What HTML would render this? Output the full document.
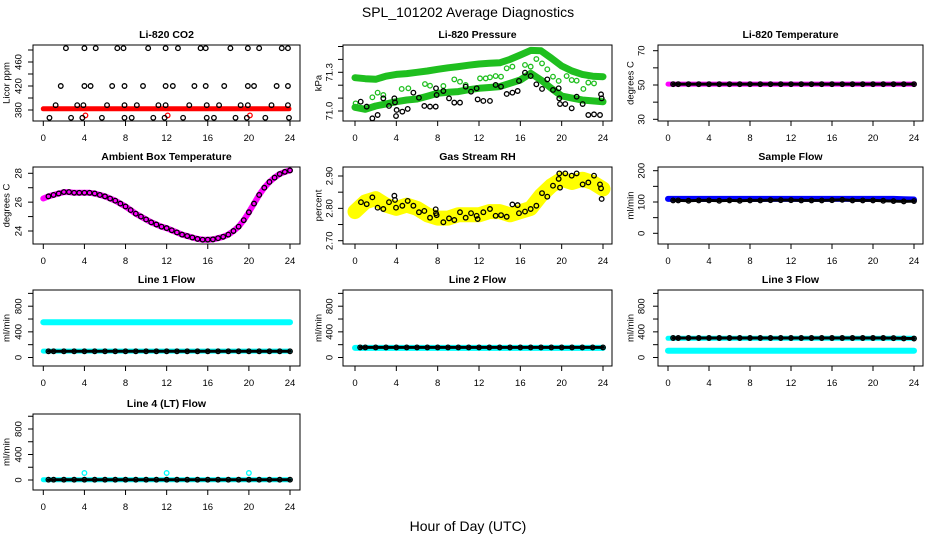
<!DOCTYPE html>
<html><head><meta charset="utf-8"><style>
body{margin:0;background:#fff}
svg{display:block;font-family:"Liberation Sans",sans-serif}
</style></head><body>
<svg id="chart" width="936" height="540" viewBox="0 0 936 540" xmlns="http://www.w3.org/2000/svg">
<rect width="936" height="540" fill="#fff"/>
<text x="468" y="17" text-anchor="middle" font-size="14">SPL_101202  Average Diagnostics</text>
<text x="468" y="531" text-anchor="middle" font-size="14">Hour of Day (UTC)</text>
</svg>
<script>
// ---------- data ----------
const hours = [0,1,2,3,4,5,6,7,8,9,10,11,12,13,14,15,16,17,18,19,20,21,22,23,24];
const xTicks = [0,4,8,12,16,20,24];

const co2Red = [382,382,382,382,382,382,382,382,382,382,382,382,382,382,382,382,382,382,382,382,382,382,382,382,382];
const co2BlackHours = [2.2,4.0,5.1,7.2,7.8,10.2,11.9,13.1,15.3,15.8,18.2,19.9,21.0,23.2,23.8,
  1.7,4.0,4.6,6.7,7.9,9.7,11.9,12.6,14.7,15.8,17.6,19.9,20.5,22.7,23.8,
  1.2,3.3,3.9,6.2,7.9,9.1,11.2,11.9,14.2,15.9,17.1,19.2,19.9,22.2,23.8,
  0.6,2.7,3.8,5.7,7.9,8.6,10.7,11.8,13.6,15.9,16.6,18.7,19.8,21.6,23.9];
const co2BlackVals = [483,483,483,483,483,483,483,483,483,483,483,483,483,483,483,
  420,420,420,420,420,420,420,420,420,420,420,420,420,420,420,
  388,388,388,388,388,388,388,388,388,388,388,388,388,388,388,
  367,367,367,367,367,367,367,367,367,367,367,367,367,367,367];
const co2RedHours = [4.1,12.1,20.1];
const co2RedVals = [371,371,371];

const pressUpper = [71.258,71.25,71.246,71.27,71.284,71.29,71.30,71.31,71.323,71.335,71.344,71.355,71.364,71.37,71.374,71.40,71.434,71.47,71.467,71.41,71.349,71.31,71.284,71.27,71.266];
const pressLower = [71.029,71.013,71.039,71.055,71.072,71.085,71.093,71.115,71.137,71.145,71.15,71.165,71.176,71.182,71.189,71.215,71.24,71.292,71.24,71.176,71.116,71.10,71.085,71.078,71.072];
const pressGreenHours = [0.06,1.68,2.19,2.74,4.52,5.16,6.77,7.26,8.55,9.61,10.16,10.71,12.1,12.65,13.06,13.61,14.13,14.68,15.23,16.45,17.0,17.55,18.1,18.61,19.16,19.71,20.48,20.97,21.45,22.1,22.58,23.13];
const pressGreenVals = [71.059,71.106,71.142,71.124,71.171,71.176,71.209,71.196,71.194,71.245,71.227,71.202,71.253,71.253,71.261,71.271,71.266,71.331,71.344,71.357,71.344,71.403,71.369,71.323,71.266,71.233,71.271,71.24,71.235,71.171,71.22,71.214];
const pressBlackHours = [0.55,1.13,1.68,2.19,2.74,3.29,3.81,3.87,3.97,4.03,4.58,5.1,5.65,6.19,6.71,7.26,7.81,7.84,7.9,8.55,9.1,9.61,10.16,10.71,11.23,11.77,11.87,12.42,13.06,13.61,14.13,14.68,15.23,15.74,15.87,16.45,17.0,17.55,18.1,18.61,19.16,19.71,19.77,19.84,20.35,20.97,21.45,22.03,22.58,23.13,23.71,23.81,23.87];
const pressBlackVals = [71.072,71.034,70.943,70.969,71.098,71.039,71.098,71.067,70.961,71.008,70.995,71.016,71.142,71.103,71.039,71.034,71.034,71.176,71.124,71.155,71.098,71.065,71.065,71.189,71.15,71.176,71.09,71.078,71.078,71.202,71.189,71.132,71.142,71.155,71.233,71.297,71.271,71.207,71.171,71.245,71.163,71.176,71.098,71.054,71.054,71.021,71.111,71.054,70.969,70.974,70.969,71.129,71.098];

const tempMagenta = [50.5,50.5,50.5,50.5,50.5,50.5,50.5,50.5,50.5,50.5,50.5,50.5,50.5,50.5,50.5,50.5,50.5,50.5,50.5,50.5,50.5,50.5,50.5,50.5,50.5];
const tempBlack = [50.5,50.5,50.5,50.5,50.5,50.5,50.5,50.5,50.5,50.5,50.5,50.5,50.5,50.5,50.5,50.5,50.5,50.5,50.5,50.5,50.5,50.5,50.5,50.5,50.5];

const halfHours = [0,0.5,1,1.5,2,2.5,3,3.5,4,4.5,5,5.5,6,6.5,7,7.5,8,8.5,9,9.5,10,10.5,11,11.5,12,12.5,13,13.5,14,14.5,15,15.5,16,16.5,17,17.5,18,18.5,19,19.5,20,20.5,21,21.5,22,22.5,23,23.5,24];
const ambientTemp = [26.25,26.4,26.5,26.6,26.7,26.7,26.65,26.65,26.65,26.65,26.6,26.5,26.4,26.25,26.1,25.9,25.7,25.45,25.2,25.0,24.8,24.6,24.45,24.3,24.2,24.05,23.9,23.75,23.65,23.55,23.45,23.4,23.4,23.42,23.5,23.6,23.75,24.0,24.3,24.75,25.3,25.9,26.5,27.0,27.4,27.7,27.95,28.1,28.2];

const rhYellow = [2.79,2.82,2.83,2.81,2.80,2.81,2.80,2.78,2.77,2.77,2.78,2.78,2.78,2.79,2.79,2.78,2.79,2.80,2.84,2.87,2.89,2.88,2.89,2.88,2.86];
const rhBlackHours = [0.58,1.13,1.68,2.19,2.74,3.29,3.81,3.87,3.97,4.58,5.1,5.65,6.19,6.71,7.26,7.81,7.84,7.9,8.55,9.1,9.61,10.16,10.71,11.23,11.77,11.87,12.42,13.06,13.61,14.13,14.68,15.23,15.74,15.87,16.45,17.0,17.55,18.1,18.61,19.16,19.71,19.77,19.84,20.35,20.97,21.45,22.03,22.58,23.13,23.71,23.81,23.87];
const rhBlackVals = [2.819,2.813,2.834,2.802,2.798,2.819,2.839,2.826,2.802,2.808,2.823,2.808,2.788,2.792,2.771,2.797,2.785,2.779,2.757,2.769,2.764,2.788,2.771,2.785,2.777,2.767,2.788,2.798,2.777,2.779,2.774,2.812,2.810,2.785,2.790,2.798,2.808,2.847,2.836,2.870,2.891,2.908,2.864,2.908,2.901,2.908,2.874,2.880,2.901,2.874,2.862,2.829];

const sampleBlue = [110,110,110,110,110,110,110,110,110,110,110,110,110,110,110,110,110,110,110,110,110,110,110,109,108];
const sampleBlack = [105,105,104,105,105,104,105,104,105,105,106,106,106,105,105,105,106,107,105,105,105,104,103,102,103];

const line1Cyan = [551,551,551,551,551,551,551,551,551,551,551,551,551,551,551,551,551,551,551,551,551,551,551,551,551];
const line1CyanLow = [100,100,100,100,100,100,100,100,100,100,100,100,100,100,100,100,100,100,100,100,100,100,100,100,100];
const line1Black = [97,97,97,97,97,97,97,97,97,97,97,97,97,97,97,97,97,97,97,97,97,97,97,97,97];
const line2Cyan = [150,150,150,150,150,150,150,150,150,150,150,150,150,150,150,150,150,150,150,150,150,150,150,150,150];
const line2Black = [157,157,157,157,157,157,157,157,157,157,157,157,157,157,157,157,157,157,157,157,157,157,157,157,157];
const line3Cyan = [105,105,105,105,105,105,105,105,105,105,105,105,105,105,105,105,105,105,105,105,105,105,105,105,105];
const line3CyanHigh = [300,300,300,300,300,300,300,300,300,300,300,300,300,300,300,300,300,300,300,300,300,300,300,300,300];
const line3Black = [304,304,304,304,304,304,304,304,304,304,304,304,304,304,304,304,304,304,304,304,304,304,302,298,296];
const line4Cyan = [5,5,5,5,5,5,5,5,5,5,5,5,5,5,5,5,5,5,5,5,5,5,5,5,5];
const line4Black = [5,5,5,5,5,5,5,5,5,5,5,5,5,5,5,5,5,5,5,5,5,5,5,5,5];
const line4SpikeHours = [4,12,20];
const line4SpikeVals = [110,110,110];

// ---------- layout ----------
const NS = "http://www.w3.org/2000/svg";
const svg = document.getElementById('chart');
const COLS = [{l:33,r:300,x0:43.3,x24:290,ylab:7,tlab:19},{l:343,r:612,x0:355,x24:603,ylab:319,tlab:330},{l:658,r:923,x0:668,x24:914,ylab:631,tlab:642}];
const ROWS = [{t:45,b:121},{t:167,b:244},{t:290,b:366},{t:414,b:490}];

function mk(tag, attrs, parent){
  const e = document.createElementNS(NS, tag);
  for (const k in attrs) e.setAttribute(k, attrs[k]);
  (parent||svg).appendChild(e);
  return e;
}

function makePanel(cfg){
  const C = COLS[cfg.col], R = ROWS[cfg.row];
  const g = mk('g', {});
  
  
  const sx = h => C.x0 + h*(C.x24 - C.x0)/24;
  const sy = v => cfg.p0 + (v - cfg.v0)*(cfg.p1 - cfg.p0)/(cfg.v1 - cfg.v0);
  const P = {g, sx, sy};
  const t = mk('text', {x:(C.l+C.r)/2, y:R.t-7, 'text-anchor':'middle', 'font-size':10.5, 'font-weight':'bold'}, g);
  
  
  t.textContent = cfg.title;
  const yl = mk('text', {x:C.ylab, y:(R.t+R.b)/2, 'text-anchor':'middle', 'dominant-baseline':'central', 'font-size':9.5, transform:`rotate(-90 ${C.ylab} ${(R.t+R.b)/2})`}, g);
  
  
  yl.textContent = cfg.ylab;
  const xa = mk('g', {}, g);
  
  
  mk('line', {x1:sx(xTicks[0]), x2:sx(xTicks[xTicks.length-1]), y1:R.b, y2:R.b, stroke:'#000'}, xa);
  xTicks.forEach(v => {
    mk('line', {x1:sx(v), x2:sx(v), y1:R.b, y2:R.b+5, stroke:'#000'}, xa);
    const tl = mk('text', {x:sx(v), y:R.b+20, 'text-anchor':'middle', 'font-size':9.5}, xa);
    
    
    tl.textContent = v;
  });
  const ya = mk('g', {}, g);
  
  
  mk('line', {x1:C.l, x2:C.l, y1:sy(cfg.yTicks[0]), y2:sy(cfg.yTicks[cfg.yTicks.length-1]), stroke:'#000'}, ya);
  cfg.yTicks.forEach(v => {
    mk('line', {x1:C.l-5, x2:C.l, y1:sy(v), y2:sy(v), stroke:'#000'}, ya);
  });
  cfg.yLabels.forEach(v => {
    const yy = sy(v);
    const tl = mk('text', {x:C.tlab, y:yy, 'text-anchor':'middle', 'dominant-baseline':'central', 'font-size':9.5, transform:`rotate(-90 ${C.tlab} ${yy})`}, ya);
    
    
    tl.textContent = cfg.fmt ? cfg.fmt(v) : v;
  });
  const cid = 'clip' + cfg.col + cfg.row;
  const cp = mk('clipPath', {id:cid}, g);
  mk('rect', {x:C.l, y:R.t, width:C.r-C.l, height:R.b-R.t}, cp);
  P.plot = mk('g', {'clip-path':`url(#${cid})`}, g);
  const box = mk('rect', {x:C.l, y:R.t, width:C.r-C.l, height:R.b-R.t, fill:'none', stroke:'#000'}, g);
  
  
  return P;
}

function band(P, xs, ys, color, w, name){
  const pts = xs.map((h,i) => P.sx(h).toFixed(1)+','+P.sy(ys[i]).toFixed(1)).join(' ');
  const pl = mk('polyline', {points:pts, fill:'none', stroke:color, 'stroke-width':w, 'stroke-linecap':'round', 'stroke-linejoin':'round'}, P.plot);
  
  
}
function dots(P, xs, ys, color, name){
  const g = mk('g', {}, P.plot);
  
  
  xs.forEach((h,i) => {
    const c = mk('circle', {cx:P.sx(h), cy:P.sy(ys[i]), r:2.3, fill:'none', stroke:color, 'stroke-width':1.3}, g);
    
    
  });
}

const seq = (a,b,s) => { const r=[]; for(let v=a; v<=b+1e-9; v+=s) r.push(+v.toFixed(4)); return r; };
const flowTicks = seq(0,1000,200);

let P = makePanel({name:'co2-panel', col:0,row:0,title:'Li-820 CO2',ylab:'Licor ppm',v0:380,p0:110,v1:460,p1:62,yTicks:seq(380,480,20),yLabels:[380,420,460]});
band(P, hours.map(h=>Math.max(h-0.1,0)), co2Red, '#f00', 5, 'co2-red-band');
dots(P, co2RedHours, co2RedVals, '#f00', 'co2-red-points');
dots(P, co2BlackHours, co2BlackVals, '#000', 'co2-black-points');

P = makePanel({name:'pressure-panel', col:1,row:0,title:'Li-820 Pressure',ylab:'kPa',v0:71.0,p0:111,v1:71.3,p1:72.3,yTicks:seq(71.0,71.5,0.1),yLabels:[71.0,71.3],fmt:v=>v.toFixed(1)});
band(P, hours, pressUpper, '#1fbf1f', 7, 'pressure-upper-band');
band(P, hours, pressLower, '#1fbf1f', 7, 'pressure-lower-band');
dots(P, pressGreenHours, pressGreenVals, '#1fbf1f', 'pressure-green-points');
dots(P, pressBlackHours, pressBlackVals, '#000', 'pressure-black-points');

P = makePanel({name:'li820-temperature-panel', col:2,row:0,title:'Li-820 Temperature',ylab:'degrees C',v0:30,p0:119.3,v1:70,p1:50.7,yTicks:seq(30,70,10),yLabels:[30,50,70]});
band(P, hours, tempMagenta, '#f0f', 5, 'temperature-magenta-band');
band(P, hours.map(h=>Math.max(h,0.5)), tempBlack, '#000', 3, 'temperature-black-line');
dots(P, hours.map(h=>Math.max(h,0.5)), tempBlack, '#000', 'temperature-black-points');

P = makePanel({name:'ambient-temperature-panel', col:0,row:1,title:'Ambient Box Temperature',ylab:'degrees C',v0:24,p0:231,v1:28,p1:173.3,yTicks:seq(24,28,1),yLabels:[24,26,28]});
band(P, halfHours, ambientTemp, '#f0f', 6, 'ambient-magenta-band');
dots(P, halfHours.slice(1), ambientTemp.slice(1), '#000', 'ambient-black-points');

P = makePanel({name:'rh-panel', col:1,row:1,title:'Gas Stream RH',ylab:'percent',v0:2.70,p0:240.7,v1:2.90,p1:176,yTicks:seq(2.70,2.90,0.05),yLabels:[2.70,2.80,2.90],fmt:v=>v.toFixed(2)});
band(P, hours, rhYellow, '#ff0', 15, 'rh-yellow-band');
dots(P, rhBlackHours, rhBlackVals, '#000', 'rh-black-points');

P = makePanel({name:'sample-flow-panel', col:2,row:1,title:'Sample Flow',ylab:'ml/min',v0:0,p0:233.3,v1:200,p1:170.7,yTicks:seq(0,200,50),yLabels:[0,100,200]});
band(P, hours, sampleBlue, '#00f', 6, 'sample-blue-band');
band(P, hours.map(h=>Math.max(h,0.5)), sampleBlack, '#000', 3, 'sample-black-line');
dots(P, hours.map(h=>Math.max(h,0.5)), sampleBlack, '#000', 'sample-black-points');

P = makePanel({name:'line1-flow-panel', col:0,row:2,title:'Line 1 Flow',ylab:'ml/min',v0:0,p0:357.5,v1:800,p1:306.2,yTicks:flowTicks,yLabels:[0,400,800]});
band(P, hours, line1Cyan, '#0ff', 6, 'line1-cyan-band');
band(P, hours, line1CyanLow, '#0ff', 5, 'line1-cyan-low-band');
band(P, hours.map(h=>Math.max(h,0.5)), line1Black, '#000', 3, 'line1-black-line');
dots(P, hours.map(h=>Math.max(h,0.5)), line1Black, '#000', 'line1-black-points');

P = makePanel({name:'line2-flow-panel', col:1,row:2,title:'Line 2 Flow',ylab:'ml/min',v0:0,p0:357.5,v1:800,p1:306.2,yTicks:flowTicks,yLabels:[0,400,800]});
band(P, hours, line2Cyan, '#0ff', 6, 'line2-cyan-band');
band(P, hours.map(h=>Math.max(h,0.5)), line2Black, '#000', 3, 'line2-black-line');
dots(P, hours.map(h=>Math.max(h,0.5)), line2Black, '#000', 'line2-black-points');

P = makePanel({name:'line3-flow-panel', col:2,row:2,title:'Line 3 Flow',ylab:'ml/min',v0:0,p0:357.5,v1:800,p1:306.2,yTicks:flowTicks,yLabels:[0,400,800]});
band(P, hours, line3Cyan, '#0ff', 6, 'line3-cyan-band');
band(P, hours, line3CyanHigh, '#0ff', 5, 'line3-cyan-high-band');
band(P, hours.map(h=>Math.max(h,0.5)), line3Black, '#000', 3, 'line3-black-line');
dots(P, hours.map(h=>Math.max(h,0.5)), line3Black, '#000', 'line3-black-points');

P = makePanel({name:'line4-flow-panel', col:0,row:3,title:'Line 4 (LT) Flow',ylab:'ml/min',v0:0,p0:480,v1:800,p1:429,yTicks:flowTicks,yLabels:[0,400,800]});
band(P, hours, line4Cyan, '#0ff', 5, 'line4-cyan-band');
band(P, hours.map(h=>Math.max(h,0.5)), line4Black, '#000', 3, 'line4-black-line');
dots(P, hours.map(h=>Math.max(h,0.5)), line4Black, '#000', 'line4-black-points');
dots(P, line4SpikeHours, line4SpikeVals, '#0ff', 'line4-cyan-spikes');
</script>
</body></html>
